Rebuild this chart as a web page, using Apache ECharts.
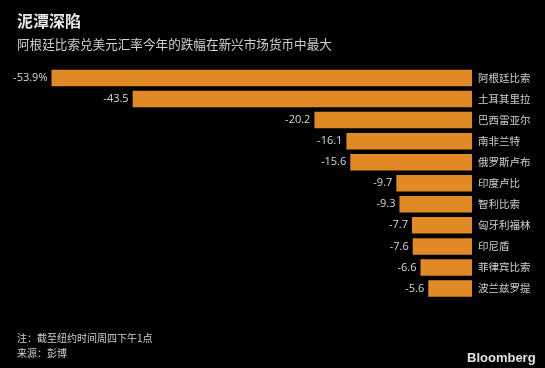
<!DOCTYPE html>
<html>
<head>
<meta charset="utf-8">
<script src="https://cdn.jsdelivr.net/npm/echarts@6/dist/echarts.min.js"></script>
<style>
html,body{margin:0;padding:0;background:#000;}
#chart{width:545px;height:368px;}
</style>
</head>
<body>
<div id="chart"></div>
<script>
const categories = ['阿根廷比索','土耳其里拉','巴西雷亚尔','南非兰特','俄罗斯卢布','印度卢比','智利比索','匈牙利福林','印尼盾','菲律宾比索','波兰兹罗提'];
const values = [-53.9,-43.5,-20.2,-16.1,-15.6,-9.7,-9.3,-7.7,-7.6,-6.6,-5.6];
const titleText = '泥潭深陷';
const subtitleText = '阿根廷比索兑美元汇率今年的跌幅在新兴市场货币中最大';
const noteText = '注：截至纽约时间周四下午1点';
const sourceText = '来源：彭博';

const font = '"Noto Sans CJK SC", "Noto Sans", sans-serif';
const chart = echarts.init(document.getElementById('chart'), null, {renderer:'canvas'});
chart.setOption({
  backgroundColor:'#000',
  animation:false,
  title:[
    {text:titleText, left:12, top:8, textStyle:{color:'#e8e8e8', fontSize:16, fontWeight:'bold', fontFamily:font}},
    {text:subtitleText, left:12, top:33, textStyle:{color:'#d0d0d0', fontSize:12.6, fontWeight:'normal', fontFamily:font}},
    {text:noteText, left:12, top:328, textStyle:{color:'#cfcfcf', fontSize:10, fontWeight:'normal', fontFamily:font}},
    {text:sourceText, left:12, top:343, textStyle:{color:'#cfcfcf', fontSize:10, fontWeight:'normal', fontFamily:font}},
    {text:'Bloomberg', left:462, top:347, textStyle:{color:'#e0e0e0', fontSize:13, fontWeight:'bold', fontFamily:'"Liberation Sans", Arial, sans-serif'}}
  ],
  grid:{left:51.5, right:73, top:67.5, height:231.5, containLabel:false},
  xAxis:{type:'value', min:'dataMin', max:0, show:false},
  yAxis:{type:'category', data:categories, inverse:true, position:'right',
    axisLine:{show:false}, axisTick:{show:false},
    axisLabel:{color:'#d0d0d0', fontSize:10.5, margin:6, fontFamily:font}},
  series:[{
    type:'bar', data:values, barWidth:16.5,
    itemStyle:{color:'#E18A25'},
    label:{show:true, position:'left', distance:4, color:'#d8d8d8', fontSize:11,
      fontFamily:'"Open Sans", "Noto Sans", sans-serif',
      formatter:function(p){return p.dataIndex===0 ? p.value.toFixed(1)+'%' : p.value.toFixed(1);}}
  }]
});
</script>
</body>
</html>
